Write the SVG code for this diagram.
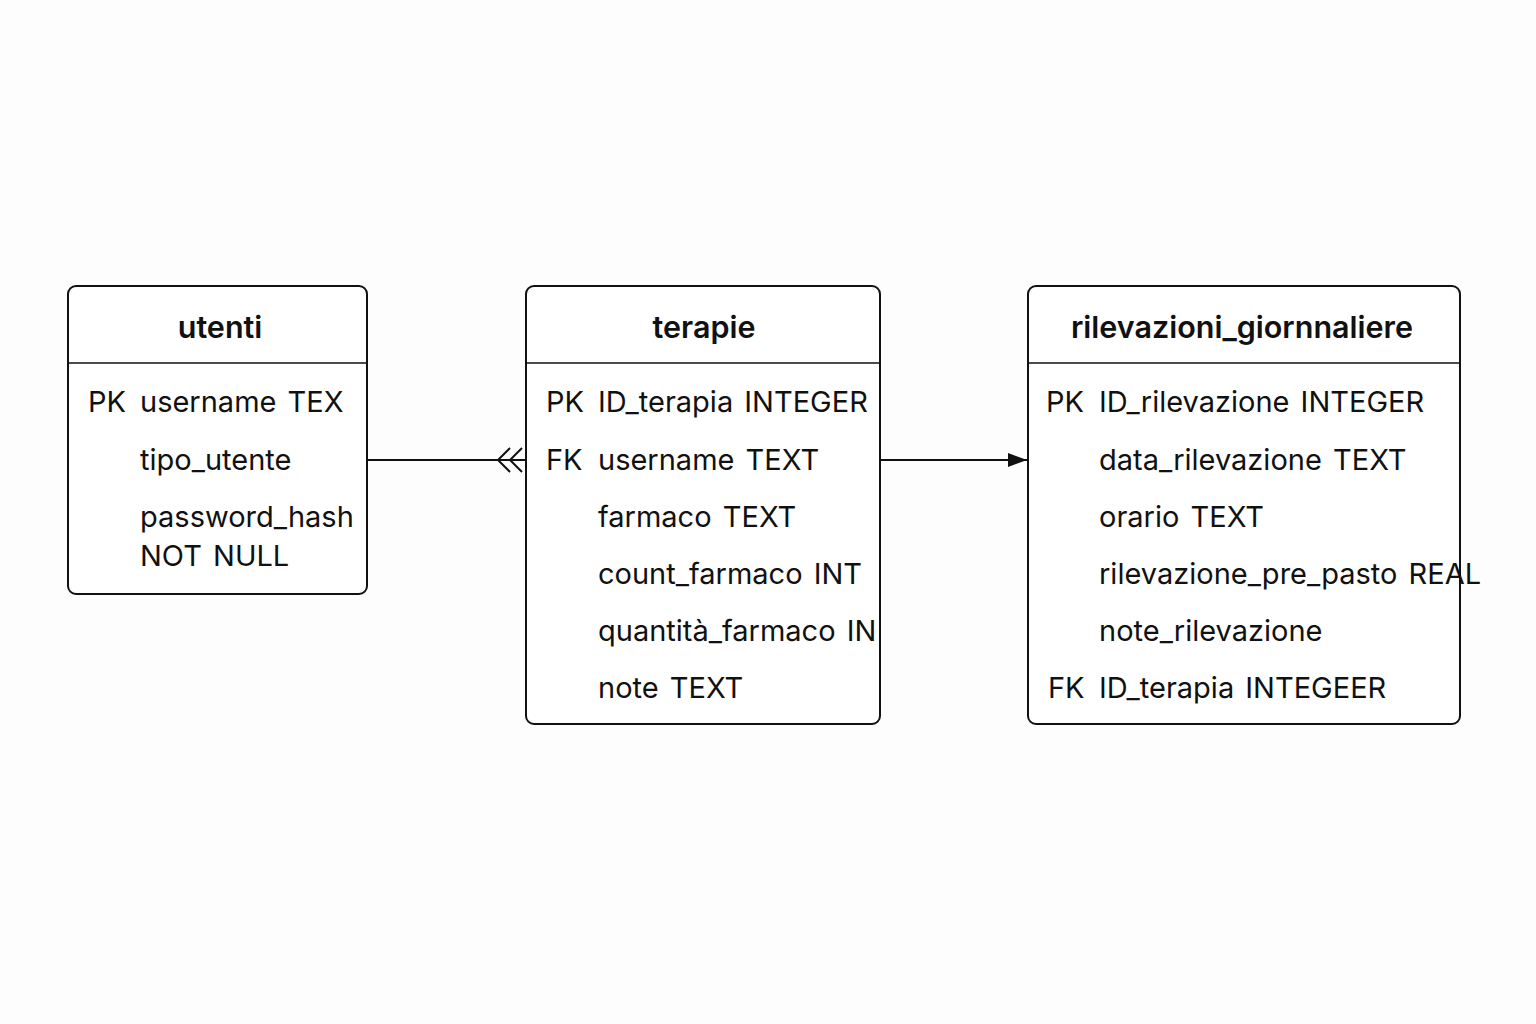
<svg xmlns="http://www.w3.org/2000/svg" width="1536" height="1024" viewBox="0 0 1536 1024">
<style>
.box{fill:#fff;stroke:#111;stroke-width:2}
.sep{stroke:#111;stroke-width:1.6}
.title{font-family:Inter,"Noto Sans",sans-serif;font-size:30.5px;font-weight:600;fill:#111;text-anchor:middle}
.row{font-family:Inter,"Noto Sans",sans-serif;font-size:29px;fill:#111;word-spacing:3px}
.conn{stroke:#111;stroke-width:2;fill:none}
</style>
<defs>
<marker id="tri" markerWidth="20" markerHeight="16" refX="19" refY="8" orient="auto" markerUnits="userSpaceOnUse">
<path d="M0,1 L19,8 L0,15 Z" fill="#111"/>
</marker>
</defs>
<rect width="1536" height="1024" fill="#fdfdfd"/>
<g id="utenti">
<rect class="box" x="68" y="286" width="299" height="308" rx="8"/>
<line class="sep" x1="68" y1="363" x2="367" y2="363"/>
<text class="title" x="220" y="338">utenti</text>
<text class="row" x="88" y="412">PK</text>
<text class="row" x="140" y="412">username TEX</text>
<text class="row" x="140" y="470">tipo_utente</text>
<text class="row" x="140" y="527">password_hash</text>
<text class="row" x="140" y="566">NOT NULL</text>
</g>
<g id="terapie">
<rect class="box" x="526" y="286" width="354" height="438" rx="8"/>
<line class="sep" x1="526" y1="363" x2="880" y2="363"/>
<text class="title" x="704" y="338">terapie</text>
<text class="row" x="546" y="412">PK</text>
<text class="row" x="598" y="412">ID_terapia INTEGER</text>
<text class="row" x="546" y="470">FK</text>
<text class="row" x="598" y="470">username TEXT</text>
<text class="row" x="598" y="527">farmaco TEXT</text>
<text class="row" x="598" y="584">count_farmaco INT</text>
<text class="row" x="598" y="641">quantità_farmaco IN</text>
<text class="row" x="598" y="698">note TEXT</text>
</g>
<g id="rilevazioni_giornnaliere">
<rect class="box" x="1028" y="286" width="432" height="438" rx="8"/>
<line class="sep" x1="1028" y1="363" x2="1460" y2="363"/>
<text class="title" x="1242" y="338">rilevazioni_giornnaliere</text>
<text class="row" x="1046" y="412">PK</text>
<text class="row" x="1099" y="412">ID_rilevazione INTEGER</text>
<text class="row" x="1099" y="470">data_rilevazione TEXT</text>
<text class="row" x="1099" y="527">orario TEXT</text>
<text class="row" x="1099" y="584">rilevazione_pre_pasto REAL</text>
<text class="row" x="1099" y="641">note_rilevazione</text>
<text class="row" x="1048" y="698">FK</text>
<text class="row" x="1099" y="698">ID_terapia INTEGEER</text>
</g>
<g id="connectors">
<line class="conn" x1="368" y1="460" x2="525" y2="460"/>
<path class="conn" d="M510,448 L498,460 L510,472 M522,448 L510,460 L522,472"/>
<line class="conn" x1="881" y1="460" x2="1027" y2="460" marker-end="url(#tri)"/>
</g>
</svg>
